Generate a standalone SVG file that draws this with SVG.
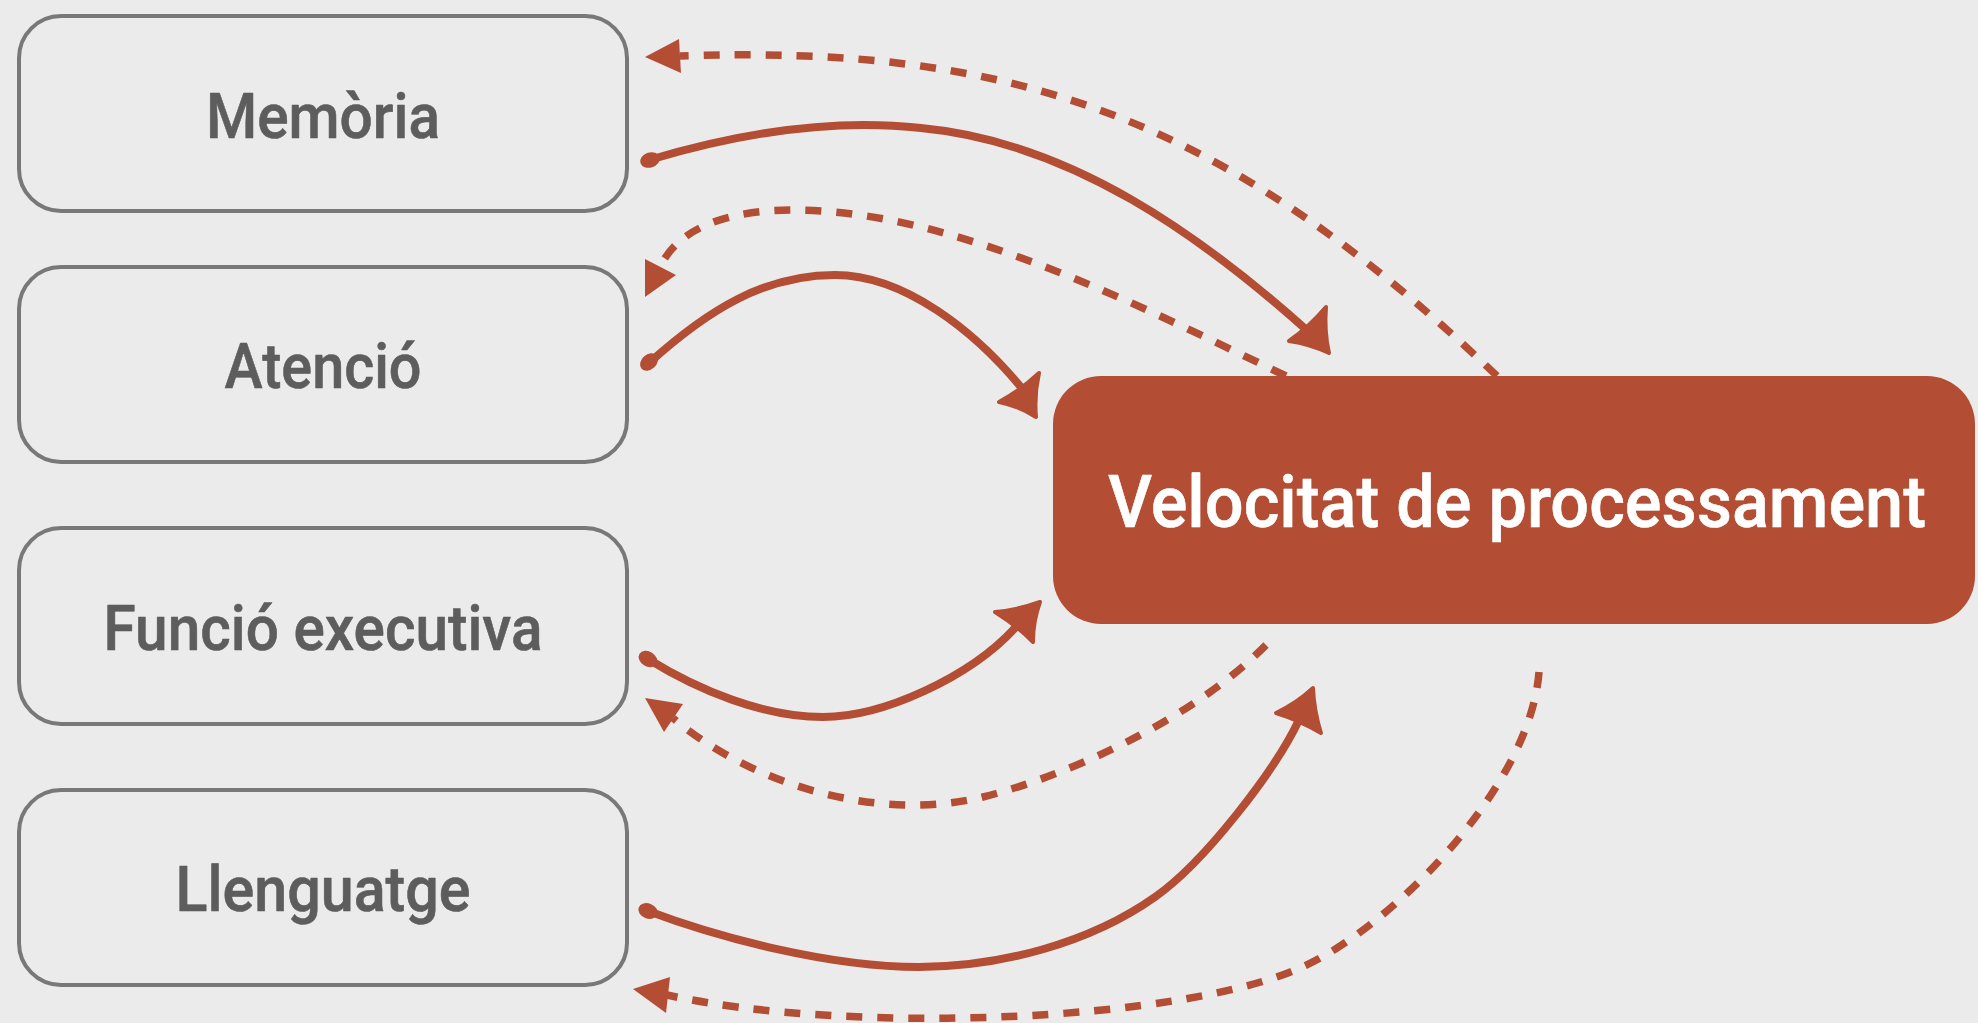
<svg xmlns="http://www.w3.org/2000/svg" width="1978" height="1023" viewBox="0 0 1978 1023">
<style>
.bg{fill:#ebebeb}
.box{fill:none;stroke:#787878;stroke-width:4}
.lbl{font-family:Roboto,"Liberation Sans",sans-serif;font-weight:500;font-size:63px;fill:#5d5d5d;stroke:#5d5d5d;stroke-width:0.6;stroke-linejoin:round;text-anchor:middle}
.main{fill:#b34e34}
.mainlbl{font-family:Roboto,"Liberation Sans",sans-serif;font-weight:500;font-size:73px;fill:#ffffff;stroke:#ffffff;stroke-width:0.6;stroke-linejoin:round;text-anchor:middle}
.dash{fill:none;stroke:#b34e34;stroke-width:7.5;stroke-dasharray:16 15}
.solid{fill:none;stroke:#b34e34;stroke-width:8;stroke-linecap:round;stroke-linejoin:round}
.head{fill:#b34e34}
.hhead{fill:#b34e34;stroke:#b34e34;stroke-width:4;stroke-linejoin:round}
.blob{fill:#b34e34}
</style>
<rect class="bg" x="0" y="0" width="1978" height="1023"/>

<g id="memoria">
<rect class="box" x="19" y="16" width="608" height="195" rx="42"/>
<text class="lbl" x="323" y="137.5" textLength="234" lengthAdjust="spacingAndGlyphs">Memòria</text>
</g>
<g id="atencio">
<rect class="box" x="19" y="267" width="608" height="195" rx="42"/>
<text class="lbl" x="323" y="388" textLength="197" lengthAdjust="spacingAndGlyphs">Atenció</text>
</g>
<g id="funcio-executiva">
<rect class="box" x="19" y="528" width="608" height="196" rx="42"/>
<text class="lbl" x="323" y="650" textLength="439" lengthAdjust="spacingAndGlyphs">Funció executiva</text>
</g>
<g id="llenguatge">
<rect class="box" x="19" y="790" width="608" height="195" rx="42"/>
<text class="lbl" x="323" y="911" textLength="295" lengthAdjust="spacingAndGlyphs">Llenguatge</text>
</g>
<g id="velocitat">
<rect class="main" x="1053" y="376" width="922" height="248" rx="48"/>
<text class="mainlbl" x="1517" y="527" textLength="818" lengthAdjust="spacingAndGlyphs">Velocitat de processament</text>
</g>

<g id="connectors">
<g id="dashed">
<path class="dash" d="M1497,376 C1217,108 1000,45 680,56"/>
<polygon class="head" points="645,57 679,39 681,73"/>
<path class="dash" d="M1286,376 C1172,321 1059,265 944,233 C834,202 695,193 660,267"/>
<polygon class="head" points="645,297 645,259 676,275"/>
<path class="dash" d="M1266,645 C1190,722 1063,777 983,797 C873,824 745,780 673,718"/>
<polygon class="head" points="645,698 683,704 664,732"/>
<path class="dash" d="M1539,672 C1530,790 1387,930 1302,967 C1182,1022 848,1035 667,995"/>
<polygon class="head" points="633,989 670,977 666,1013"/>
</g>
<g id="solid">
<path class="solid" d="M649,160 C739,133 831,118 921,128 C1071,142 1202,236 1310,333"/>
<ellipse class="blob" cx="650" cy="160" rx="10" ry="7.5" transform="rotate(-17 650 160)"/>
<path class="hhead" d="M1329,353 Q1324,331 1326,307 Q1309,327 1289,341 Q1310,344 1329,353 Z"/>
<path class="solid" d="M649,363 C709,309 765,275 835,275 C905,275 975,332 1020,386"/>
<ellipse class="blob" cx="649" cy="362" rx="10" ry="7.5" transform="rotate(-42 649 362)"/>
<path class="hhead" d="M1036,417 Q1034,395 1039,373 Q1021,390 999,402 Q1019,406 1036,417 Z"/>
<path class="solid" d="M648,659 C698,690 763,717 823,717 C883,717 970,677 1015,628"/>
<ellipse class="blob" cx="648" cy="659" rx="10" ry="7.5" transform="rotate(32 648 659)"/>
<path class="hhead" d="M1040,602 Q1018,610 995,612 Q1016,625 1033,642 Q1033,621 1040,602 Z"/>
<path class="solid" d="M648,911 C720,938 830,967 919,967 C1000,967 1090,943 1155,897 C1205,862 1275,770 1298,722"/>
<ellipse class="blob" cx="648" cy="911" rx="10" ry="7.5" transform="rotate(21 648 911)"/>
<path class="hhead" d="M1313,688 Q1297,703 1276,713 Q1299,720 1321,733 Q1314,711 1313,688 Z"/>
</g>
</g>
</svg>
